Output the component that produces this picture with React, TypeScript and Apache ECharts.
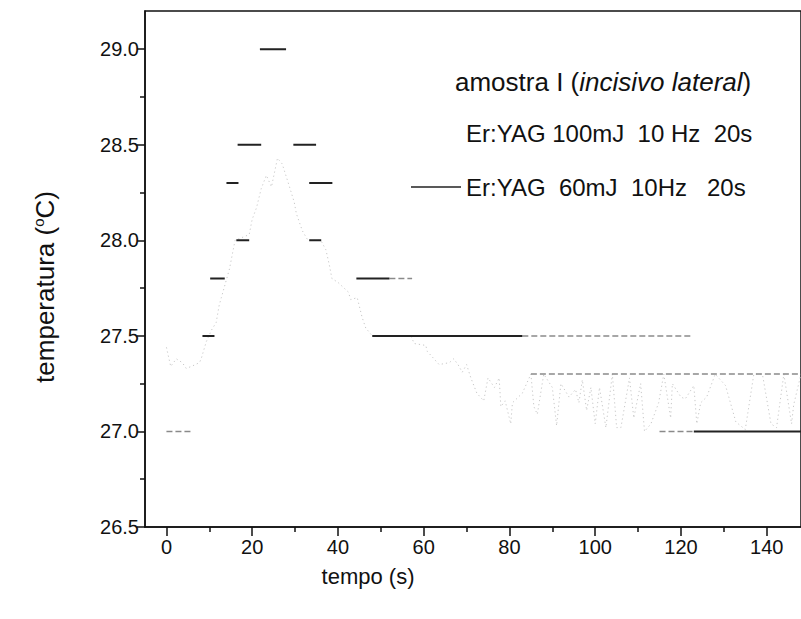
import React, { useEffect, useRef } from "react";
import * as echarts from "echarts";

// ---- data ----
const name100 = "Er:YAG 100mJ  10 Hz  20s";
const name60 = "Er:YAG  60mJ  10Hz   20s";

const xMajorTicks = [0, 20, 40, 60, 80, 100, 120, 140];
const xMinorTicks = [10, 30, 50, 70, 90, 110, 130];
const yMajorTicks = [26.5, 27.0, 27.5, 28.0, 28.5, 29.0];
const yMinorTicks = [26.75, 27.25, 27.75, 28.25, 28.75];

// 60 mJ (black): horizontal runs of the stepped record that print dark
const runDarkStart = [8.4, 10.2, 14.0, 16.3, 16.6, 21.8, 29.6, 33.3, 33.3, 44.3, 48.0, 123.0];
const runDarkEnd = [11.2, 13.6, 16.8, 19.3, 22.1, 27.9, 34.9, 36.1, 38.7, 52.0, 83.0, 148.0];
const runDarkLevel = [27.5, 27.8, 28.3, 28.0, 28.5, 29.0, 28.5, 28.0, 28.3, 27.8, 27.5, 27.0];

// 60 mJ: runs that print faint / broken
const runFaintStart = [0, 52.0, 83.0, 85.0, 115.0];
const runFaintEnd = [6.0, 57.3, 122.5, 148.0, 123.0];
const runFaintLevel = [27.0, 27.8, 27.5, 27.3, 27.0];

// 100 mJ (light grey, noisy)
const t100 = [0, 1, 2.3, 3.7, 4.6, 5.8, 7.7, 8.1, 9.3, 10.5, 11.6, 12.3, 12.8, 14.7, 16, 19.3, 20, 21, 22.1, 23.3, 24.5, 25.9, 27, 28.7, 29.8, 30.3, 31.7, 33, 36, 37.2, 38, 38.6, 40, 42.4, 43, 44.5, 45.6, 46.5, 47.3, 48, 57, 57.8, 60.5, 60.8, 63.6, 66, 67, 68, 69, 70, 71, 72.4, 74, 75, 76.5, 77.6, 78, 79, 80.3, 80.7, 83, 85, 85.7, 86.5, 88, 90, 91, 92, 93.9, 95.4, 96.2, 97, 98, 99, 100, 101, 102.5, 104, 105, 106, 108, 109, 110.6, 111.5, 113, 114.8, 116, 117.6, 118, 120, 121, 123, 123.7, 124.6, 126, 128, 130.4, 132.8, 135, 137, 139, 141, 142.3, 144, 145.8, 146.3, 148];
const v100 = [27.44, 27.34, 27.38, 27.36, 27.33, 27.34, 27.36, 27.38, 27.47, 27.53, 27.57, 27.66, 27.7, 27.85, 28.0, 28.03, 28.11, 28.17, 28.27, 28.34, 28.28, 28.43, 28.4, 28.28, 28.2, 28.14, 28.05, 28.0, 28.0, 27.95, 27.87, 27.8, 27.78, 27.73, 27.69, 27.7, 27.6, 27.54, 27.52, 27.5, 27.5, 27.46, 27.45, 27.42, 27.35, 27.36, 27.38, 27.35, 27.31, 27.35, 27.28, 27.2, 27.16, 27.28, 27.23, 27.28, 27.13, 27.16, 27.04, 27.15, 27.2, 27.3, 27.13, 27.09, 27.3, 27.23, 27.03, 27.25, 27.18, 27.22, 27.15, 27.27, 27.11, 27.23, 27.04, 27.23, 27.02, 27.3, 27.02, 27.02, 27.28, 27.07, 27.25, 27.0, 27.04, 27.15, 27.3, 27.07, 27.25, 27.18, 27.17, 27.24, 27.04, 27.15, 27.18, 27.3, 27.24, 27.05, 27.01, 27.3, 27.3, 27.04, 27.02, 27.3, 27.04, 27.14, 27.3];

const FONT = "'Liberation Sans', Arial, Helvetica, sans-serif";
const INK = "#111";

function runsToData(starts: number[], ends: number[], levels: number[]) {
  const out: any[] = [];
  levels.forEach((v, i) => {
    if (i > 0) out.push([(starts[i] + ends[i - 1]) / 2, null]);
    out.push([starts[i], v]);
    out.push([ends[i], v]);
  });
  return out;
}

export default function App() {
  const ref = useRef<HTMLDivElement>(null);

  useEffect(() => {
    if (!ref.current) return;
    const chart = echarts.init(ref.current, undefined, { renderer: "svg" });

    const baseX = { type: "value", min: -5, max: 148, gridIndex: 0 };
    const baseY = { type: "value", min: 26.5, max: 29.2, gridIndex: 0 };

    chart.setOption({
      animation: false,
      backgroundColor: "#fff",
      title: {
        text: "amostra I ({i|incisivo lateral})",
        left: 450,
        top: 64,
        textStyle: {
          fontFamily: FONT,
          fontSize: 26,
          fontWeight: "normal",
          color: INK,
          rich: { i: { fontFamily: FONT, fontSize: 26, fontStyle: "italic", color: INK } },
        },
      },
      legend: {
        orient: "vertical",
        left: 406,
        top: 116,
        itemWidth: 50,
        itemHeight: 1.5,
        itemGap: 30,
        icon: "rect",
        selectedMode: false,
        textStyle: { fontFamily: FONT, fontSize: 24, color: INK },
        data: [
          { name: name100, itemStyle: { opacity: 0 } },
          { name: name60, itemStyle: { color: "#222" } },
        ],
      },
      grid: {
        left: 145,
        top: 11,
        width: 658,
        height: 516,
        show: true,
        borderColor: INK,
        borderWidth: 1.5,
        backgroundColor: "transparent",
      },
      xAxis: [
        {
          ...baseX,
          name: "tempo (s)",
          nameLocation: "middle",
          nameGap: 38,
          nameTextStyle: { fontFamily: FONT, fontSize: 22, color: INK, padding: [0, 210, 0, 0] },
          axisLine: { show: true, onZero: false, lineStyle: { color: INK, width: 1.5 } },
          axisTick: { show: true, length: 9, customValues: xMajorTicks, lineStyle: { color: INK, width: 1.5 } },
          axisLabel: {
            customValues: xMajorTicks,
            margin: 10,
            fontFamily: FONT,
            fontSize: 20,
            color: INK,
          },
          splitLine: { show: false },
        },
        {
          ...baseX,
          position: "bottom",
          axisLine: { show: false, onZero: false },
          axisTick: { show: true, length: 5, customValues: xMinorTicks, lineStyle: { color: INK, width: 1.5 } },
          axisLabel: { show: false },
          splitLine: { show: false },
        },
      ],
      yAxis: [
        {
          ...baseY,
          name: "temperatura ({s|o}C)",
          nameLocation: "middle",
          nameGap: 86,
          nameTextStyle: {
            fontFamily: FONT,
            fontSize: 26,
            color: INK,
            padding: [0, 36, 0, 0],
            rich: { s: { fontFamily: FONT, fontSize: 15, color: INK, verticalAlign: "top", lineHeight: 28 } },
          },
          axisLine: { show: true, onZero: false, lineStyle: { color: INK, width: 1.5 } },
          axisTick: { show: true, length: 8, customValues: yMajorTicks, lineStyle: { color: INK, width: 1.5 } },
          axisLabel: {
            customValues: yMajorTicks,
            margin: 6,
            fontFamily: FONT,
            fontSize: 20,
            color: INK,
            formatter: (v: number) => v.toFixed(1),
          },
          splitLine: { show: false },
        },
        {
          ...baseY,
          position: "left",
          axisLine: { show: false, onZero: false },
          axisTick: { show: true, length: 5, customValues: yMinorTicks, lineStyle: { color: INK, width: 1.5 } },
          axisLabel: { show: false },
          splitLine: { show: false },
        },
      ],
      series: [
        {
          name: name100,
          type: "line",
          xAxisIndex: 0,
          yAxisIndex: 0,
          showSymbol: false,
          symbol: "none",
          lineStyle: { color: "#c8c8c8", width: 1, type: [1.2, 3] },
          itemStyle: { color: "#c8c8c8" },
          data: t100.map((t, i) => [t, v100[i]]),
          z: 2,
        },
        {
          name: name60,
          type: "line",
          xAxisIndex: 0,
          yAxisIndex: 0,
          showSymbol: false,
          symbol: "none",
          connectNulls: false,
          lineStyle: { color: "#222", width: 2 },
          itemStyle: { color: "#222" },
          data: runsToData(runDarkStart, runDarkEnd, runDarkLevel),
          z: 4,
        },
        {
          name: name60,
          type: "line",
          xAxisIndex: 0,
          yAxisIndex: 0,
          showSymbol: false,
          symbol: "none",
          connectNulls: false,
          lineStyle: { color: "#8a8a8a", width: 1.5, type: [6, 3] },
          itemStyle: { color: "#222" },
          data: runsToData(runFaintStart, runFaintEnd, runFaintLevel),
          z: 3,
        },
      ],
    });

    return () => chart.dispose();
  }, []);

  return (
    <div
      ref={ref}
      style={{ position: "fixed", left: 0, top: 0, width: 801, height: 619, background: "#fff" }}
    />
  );
}
